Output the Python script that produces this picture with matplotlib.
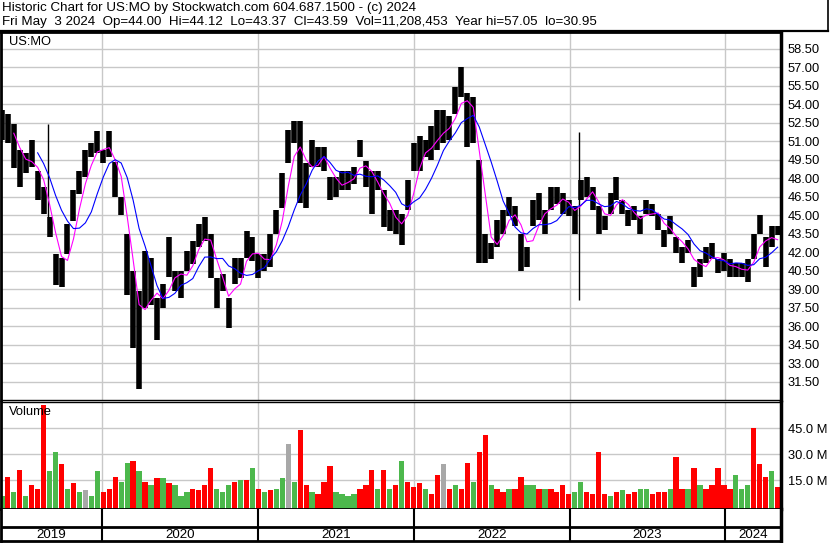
import numpy as np
import pandas as pd
import matplotlib
matplotlib.use("Agg")
import matplotlib.pyplot as plt
from matplotlib.lines import Line2D

plt.rcParams['font.family'] = ['Liberation Sans', 'DejaVu Sans']

# bi-weekly samples (high / low of each period)
dates = pd.date_range(end='2024-05-03', periods=131, freq='14D')
highs = [53.5, 53.2, 52.4, 50.3, 50.0, 51.1, 48.6, 47.3, 44.8, 41.8,
         41.5, 44.3, 47.0, 48.6, 50.3, 50.8, 51.8, 50.3, 51.8, 49.3,
         46.5, 43.5, 40.5, 38.8, 42.1, 41.5, 38.3, 39.4, 43.2, 40.5,
         40.5, 42.1, 42.9, 44.3, 44.8, 43.5, 39.9, 40.2, 38.3, 41.5,
         41.5, 43.7, 43.2, 41.8, 41.8, 43.5, 45.4, 48.4, 51.9, 52.6,
         52.6, 49.2, 51.1, 50.5, 50.5, 48.1, 48.1, 48.6, 48.6, 48.9,
         51.1, 49.4, 48.6, 48.6, 47.0, 45.4, 45.4, 45.1, 47.8, 50.8,
         51.4, 51.1, 52.2, 53.5, 53.5, 53.0, 55.4, 57.0, 54.9, 54.6,
         49.5, 43.5, 42.7, 44.6, 45.4, 46.5, 45.7, 43.5, 42.4, 46.2,
         46.8, 45.4, 47.3, 47.3, 46.8, 46.2, 45.7, 47.8, 48.1, 47.3,
         45.7, 44.9, 46.8, 48.1, 46.2, 45.4, 45.7, 44.9, 46.2, 45.9,
         45.1, 43.8, 44.9, 43.2, 42.4, 43.0, 40.8, 41.4, 42.4, 42.7,
         41.4, 41.9, 41.4, 41.1, 41.1, 41.4, 43.5, 45.0, 43.2, 44.1,
         44.12]
lows = [51.1, 50.8, 48.8, 47.3, 48.4, 48.9, 46.2, 45.1, 43.2, 39.3,
        39.2, 41.8, 44.5, 46.7, 48.1, 49.7, 50.0, 49.2, 49.7, 46.5,
        45.0, 38.5, 34.2, 30.9, 37.5, 37.7, 34.9, 37.5, 40.0, 38.8,
        38.3, 40.5, 41.0, 42.4, 42.9, 39.9, 37.5, 38.8, 35.8, 39.4,
        39.9, 41.5, 41.3, 39.9, 40.5, 40.8, 43.5, 45.6, 49.2, 50.8,
        46.0, 45.6, 48.9, 48.9, 48.6, 46.2, 46.5, 47.0, 47.0, 47.5,
        49.7, 47.3, 45.1, 47.0, 44.0, 43.7, 43.5, 42.6, 45.4, 48.6,
        48.6, 49.7, 49.5, 50.3, 50.8, 51.1, 53.2, 54.6, 50.5, 50.8,
        41.1, 41.1, 41.4, 42.4, 43.5, 44.9, 44.1, 40.5, 40.8, 44.1,
        44.6, 43.5, 45.4, 45.9, 45.1, 44.9, 43.5, 46.2, 46.5, 45.4,
        43.5, 43.8, 45.1, 46.2, 45.1, 44.1, 44.6, 43.5, 45.1, 44.9,
        43.8, 42.4, 43.5, 41.9, 41.1, 41.9, 39.2, 40.0, 41.1, 41.4,
        40.3, 40.5, 40.0, 40.0, 40.0, 39.6, 41.4, 43.5, 40.8, 42.4,
        43.37]

# two single-day outlier ticks
spike_dates = pd.to_datetime(['2019-08-27', '2023-01-24'])
spike_hi = [52.4, 51.7]
spike_lo = [44.8, 38.1]

# volume in millions, colour: r = down, g = up, x = unchanged
volume = [6, 17, 8, 21, 6, 12, 10, 58, 20, 31,
          24, 10, 13, 8, 9, 6, 20, 8, 10, 17,
          14, 25, 26, 20, 14, 12, 16, 16, 13, 12,
          6, 8, 10, 9, 12, 22, 10, 8, 12, 14,
          15, 15, 22, 10, 8, 9, 10, 16, 36, 14,
          44, 12, 8, 7, 14, 23, 8, 7, 6, 7,
          10, 12, 21, 10, 21, 10, 12, 26, 14, 11,
          13, 10, 7, 18, 24, 10, 12, 10, 25, 14,
          31, 41, 12, 10, 8, 10, 10, 17, 12, 12,
          10, 10, 10, 8, 12, 7, 8, 14, 8, 7,
          31, 7, 6, 8, 9, 7, 8, 10, 10, 7,
          8, 8, 10, 28, 10, 10, 22, 12, 10, 12,
          22, 12, 10, 18, 10, 12, 45, 24, 17, 20,
          11.2]
vol_dir = ("grgrgrrrgg" "rgrgxggrrr" "ggrgrgrgrg" "ggrrrrgggr"
           "grgrgrggxg" "rrgrrrgggg" "rrrgrgrgrr" "rgrrxrgrrg"
           "rrgrrgrrgg" "rgrrrrggrr" "rrgrgrrggr" "rrgrrgrgrr"
           "rrrgggrrrg" "r")

year_starts = pd.to_datetime(['2020-01-01', '2021-01-01', '2022-01-01',
                              '2023-01-01', '2024-01-01'])
years = ['2019', '2020', '2021', '2022', '2023', '2024']

W, H = 830, 543
fig = plt.figure(figsize=(W / 100, H / 100), dpi=100)


def box(x0, y0, x1, y1):
    return [x0 / W, 1 - y1 / H, (x1 - x0) / W, (y1 - y0) / H]


x_lo, x_hi = pd.Timestamp('2019-05-08'), pd.Timestamp('2024-05-11')
grid_c = '#c8c8c8'
fs = 9.3

# price panel
ax = fig.add_axes(box(1, 32, 781, 400))
ax.vlines(dates, lows, highs, color='black', lw=4.0)
ax.vlines(spike_dates, spike_lo, spike_hi, color='black', lw=1)
mid = (pd.Series(highs) + pd.Series(lows)) / 2
ax.plot(dates, mid.rolling(3).mean(), color='#ff00ff', lw=0.8)
ax.plot(dates, mid.rolling(7).mean(), color='#0000ff', lw=0.8)
ax.set_ylim(30.0, 59.84)
ticks = np.arange(31.5, 58.6, 1.5)
ax.set_yticks(ticks)
ax.set_yticklabels([f'{t:.2f}' for t in ticks])
ax.yaxis.tick_right()
ax.set_xlim(x_lo, x_hi)
ax.set_xticks(year_starts)
ax.tick_params(axis='x', length=0, labelbottom=False)
ax.tick_params(axis='y', length=0, pad=5, labelsize=fs)
ax.grid(True, color=grid_c, lw=1)
ax.set_axisbelow(True)
ax.text(8 / 780, 1 - 10 / 368, 'US:MO', transform=ax.transAxes,
        fontsize=fs, va='center', ha='left')

# volume panel
axv = fig.add_axes(box(1, 402, 781, 509))
vcol = {'r': '#ff0000', 'g': '#4cb84c', 'x': '#a8a8a8'}
vbase = 1.73
axv.bar(dates, np.array(volume) + vbase, bottom=-vbase, width=12.5,
        color=[vcol[c] for c in vol_dir])
axv.set_ylim(-vbase, 60)
axv.set_yticks([15, 30, 45])
axv.set_yticklabels(['15.0 M', '30.0 M', '45.0 M'])
axv.yaxis.tick_right()
axv.set_xlim(x_lo, x_hi)
axv.set_xticks(year_starts)
axv.tick_params(axis='x', length=0, labelbottom=False)
axv.tick_params(axis='y', length=0, pad=5, labelsize=fs)
axv.grid(True, color=grid_c, lw=1)
axv.set_axisbelow(True)
axv.text(8 / 780, 1 - 10 / 107, 'Volume', transform=axv.transAxes,
         fontsize=fs, va='center', ha='left')

# year strip
axy = fig.add_axes(box(1, 509, 781, 541))
axy.set_xlim(x_lo, x_hi)
axy.set_ylim(0, 1)
axy.set_xticks([])
axy.set_yticks([])
for d in year_starts:
    axy.axvline(d, color='black', lw=1.5)
axy.axhline(14 / 32, color='black', lw=2)
edges = [x_lo] + list(year_starts) + [x_hi]
for i, yr in enumerate(years):
    c = edges[i] + (edges[i + 1] - edges[i]) / 2
    axy.text(c, 0.2, yr, ha='center', va='center', fontsize=9.6)

for a in (ax, axv, axy):
    for s in a.spines.values():
        s.set_color('black')
    a.spines['left'].set_linewidth(2)
    a.spines['right'].set_linewidth(2.5)
ax.spines['top'].set_linewidth(2)
ax.spines['bottom'].set_linewidth(1)
axv.spines['top'].set_linewidth(1)
axv.spines['bottom'].set_linewidth(2)
axy.spines['top'].set_linewidth(0)
axy.spines['bottom'].set_linewidth(2)

# header
hfs = 9.6
fig.text(2 / W, 1 - 10.5 / H, 'Historic Chart for US:MO by Stockwatch.com 604.687.1500 - (c) 2024',
         fontsize=hfs, va='baseline')
fig.text(2 / W, 1 - 25.5 / H,
         'Fri May  3 2024  Op=44.00  Hi=44.12  Lo=43.37  Cl=43.59  Vol=11,208,453  Year hi=57.05  lo=30.95',
         fontsize=hfs, va='baseline')
fig.add_artist(Line2D([0, 828 / W], [1 - 31 / H] * 2, color='black', lw=1.6))
fig.add_artist(Line2D([828 / W] * 2, [1 - 31 / H, 1], color='black', lw=1.2))

fig.savefig('out.png', dpi=100)
